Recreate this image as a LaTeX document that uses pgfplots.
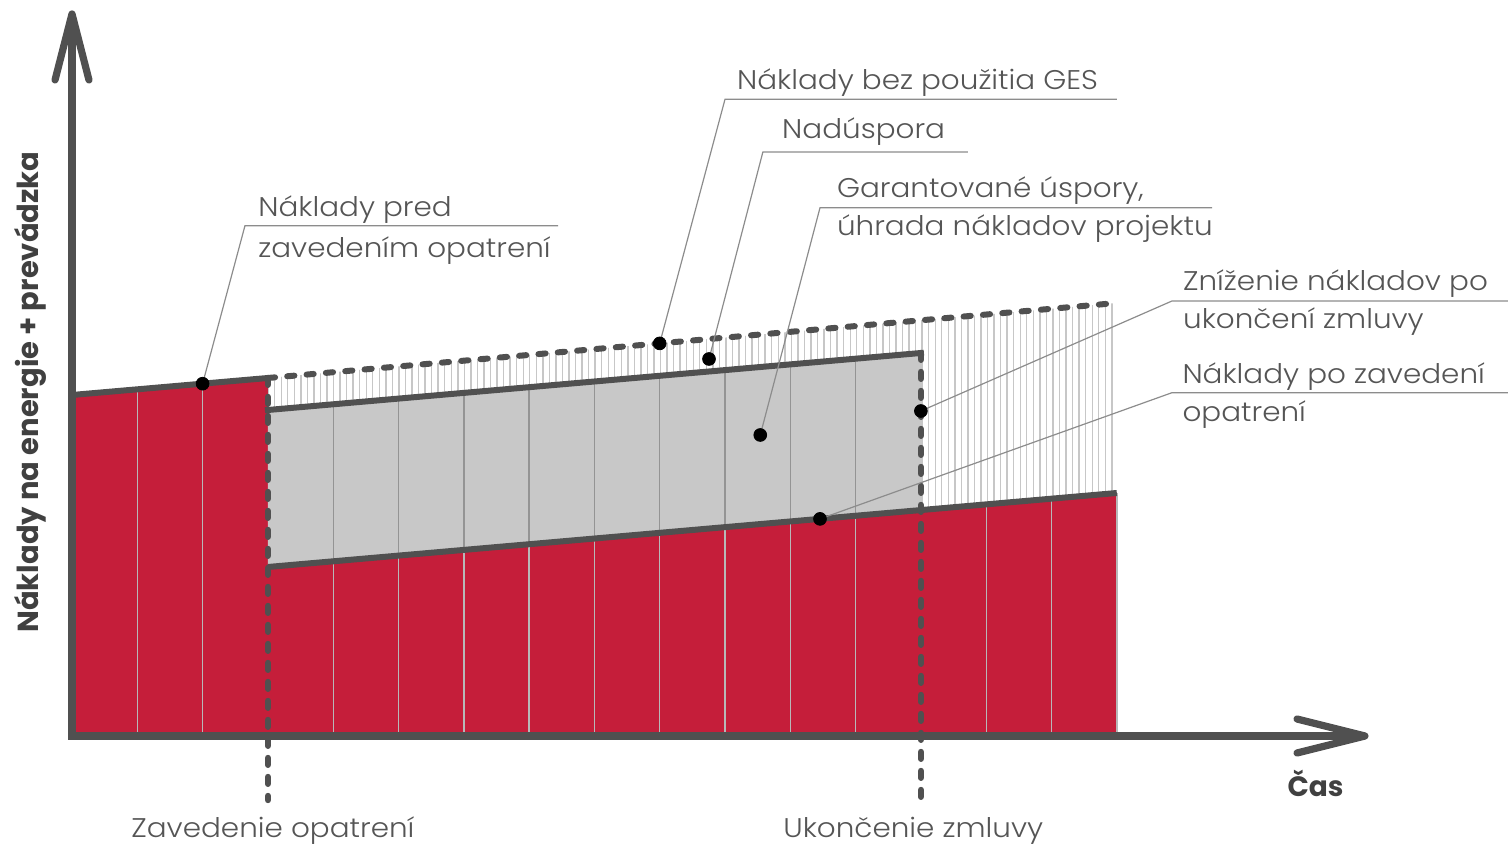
\documentclass[border=0pt]{standalone}
\usepackage{pgfplots}
\pgfplotsset{compat=1.18}
\usetikzlibrary{patterns.meta}
\usepackage{fontspec}
\IfFontExistsTF{Poppins Light}
  {\setmainfont{Poppins Light}[FakeStretch=1.09, BoldFont={Poppins SemiBold}]}
  {\setmainfont{Poppins}[FakeStretch=1.09]}
\newfontfamily\boldlab{Poppins}[FakeStretch=1.0]

\definecolor{cred}{RGB}{197,30,58}
\definecolor{cgrayfill}{RGB}{200,200,200}
\definecolor{cline}{RGB}{80,80,80}
\definecolor{ctext}{RGB}{85,85,85}
\definecolor{clab}{RGB}{64,64,64}
\definecolor{cleader}{RGB}{140,140,140}
\tikzset{lbl/.style={anchor=base west, inner sep=0pt, text=ctext, font=\fontsize{13.5}{16}\selectfont}}

\begin{document}
\begin{tikzpicture}
\begin{axis}[
  width=754pt, height=424.5pt, scale only axis,
  xmin=-1.1026, xmax=21.991, ymin=-113, ymax=736,
  hide axis, clip=false,
]
\coordinate (bl) at (rel axis cs:0,0);
\coordinate (tr) at (rel axis cs:1,1);

% hatched region (savings beyond the reduced costs)
\addplot[draw=none, pattern={Lines[angle=90,distance=3.27pt,line width=0.7pt]}, pattern color=black!22]
  coordinates {(3,358) (16,433) (16,243) (13,225.9) (13,383) (3,326)} -- cycle;

% red area: costs
\addplot[draw=none, fill=cred]
  coordinates {(0,0) (0,341) (3,358) (3,169) (16,243) (16,0)} -- cycle;

% grey area: guaranteed savings
\addplot[draw=none, fill=cgrayfill]
  coordinates {(3,326) (13,383) (13,225.9) (3,169)} -- cycle;

% yearly grid lines
\addplot[ycomb, color=black!42, line width=0.7pt]
  coordinates {(4,331.7) (5,337.4) (6,343.1) (7,348.8) (8,354.5) (9,360.2) (10,365.9) (11,371.6) (12,377.3)};
\addplot[ycomb, color=black!28, line width=0.7pt]
  coordinates {(1,346.7) (2,352.3) (4,174.7) (5,180.4) (6,186.1) (7,191.8) (8,197.5) (9,203.2) (10,208.8) (11,214.5) (12,220.2) (14,231.6) (15,237.3) (16,243)};

% outlines
\addplot[cline, line width=3pt, line cap=round] coordinates {(0,341) (3,358)};
\addplot[cline, line width=3pt, line cap=rect] coordinates {(3,326) (13,383)};
\addplot[cline, line width=3pt] coordinates {(3,169) (16,243)};
\addplot[cline, line width=3pt, line cap=round, dash pattern=on 3.6pt off 6.1pt] coordinates {(3,358) (16,433)};
\addplot[cline, line width=3.2pt, line cap=round, dash pattern=on 3.4pt off 6.1pt] coordinates {(3,358) (3,-64)};
\addplot[cline, line width=3.2pt, line cap=round, dash pattern=on 3.4pt off 6.1pt] coordinates {(13,383) (13,-64)};

% axes with open arrow heads
\addplot[cline, line width=3.6pt, line join=miter] coordinates {(0,722) (0,0) (19.80,0)};
\addplot[cline, line width=3.6pt, line cap=round, line join=round] coordinates {(-0.26,656) (0,722) (0.26,656)};
\addplot[cline, line width=3.6pt, line cap=round, line join=round] coordinates {(18.76,17) (19.80,0) (18.76,-17)};

% leader lines
\addplot[cleader, line width=0.6pt] coordinates {(2,352.3) (2.649,510.3) (7.443,510.3)};
\addplot[cleader, line width=0.6pt] coordinates {(9,392.6) (10.0,636.7) (16.0,636.7)};
\addplot[cleader, line width=0.6pt] coordinates {(9.755,377) (10.58,584) (13.72,584)};
\addplot[cleader, line width=0.6pt] coordinates {(10.54,301) (11.455,528.3) (17.46,528.3)};
\addplot[cleader, line width=0.6pt] coordinates {(13,325) (16.845,435) (21.99,435)};
\addplot[cleader, line width=0.6pt] coordinates {(11.455,217.1) (16.845,343.3) (21.99,343.3)};

% dots
\addplot[only marks, mark=*, mark size=3.2pt, black]
  coordinates {(2,352.3) (9,392.6) (9.755,377) (10.54,301) (13,325) (11.455,217.1)};

% labels
\node[lbl] at (axis cs:2.848,519.5) {Náklady pred};
\node[lbl] at (axis cs:2.848,478.5) {zavedením opatrení};
\node[lbl] at (axis cs:10.18,646.5) {Náklady bez použitia GES};
\node[lbl] at (axis cs:10.87,597.3) {Nadúspora};
\node[lbl] at (axis cs:11.71,538.3) {Garantované úspory,};
\node[lbl] at (axis cs:11.71,500.7) {úhrada nákladov projektu};
\node[lbl] at (axis cs:17.01,445.7) {Zníženie nákladov po};
\node[lbl] at (axis cs:17.01,407.3) {ukončení zmluvy};
\node[lbl] at (axis cs:17.0,352.3) {Náklady po zavedení};
\node[lbl] at (axis cs:17.0,314) {opatrení};
\node[lbl] at (axis cs:0.9035,-102) {Zavedenie opatrení};
\node[lbl] at (axis cs:10.888,-102) {Ukončenie zmluvy};
\node[anchor=base west, inner sep=0pt, text=clab, font=\boldlab\fontsize{14}{16}\selectfont\bfseries] at (axis cs:18.61,-61) {Čas};
\node[anchor=center, inner sep=0pt, rotate=90, text=clab, font=\boldlab\fontsize{14.5}{16}\selectfont\bfseries] at (axis cs:-0.643,344) {Náklady na energie + prevádzka};
\end{axis}
\pgfresetboundingbox
\useasboundingbox (bl) rectangle (tr);
\end{tikzpicture}
\end{document}
